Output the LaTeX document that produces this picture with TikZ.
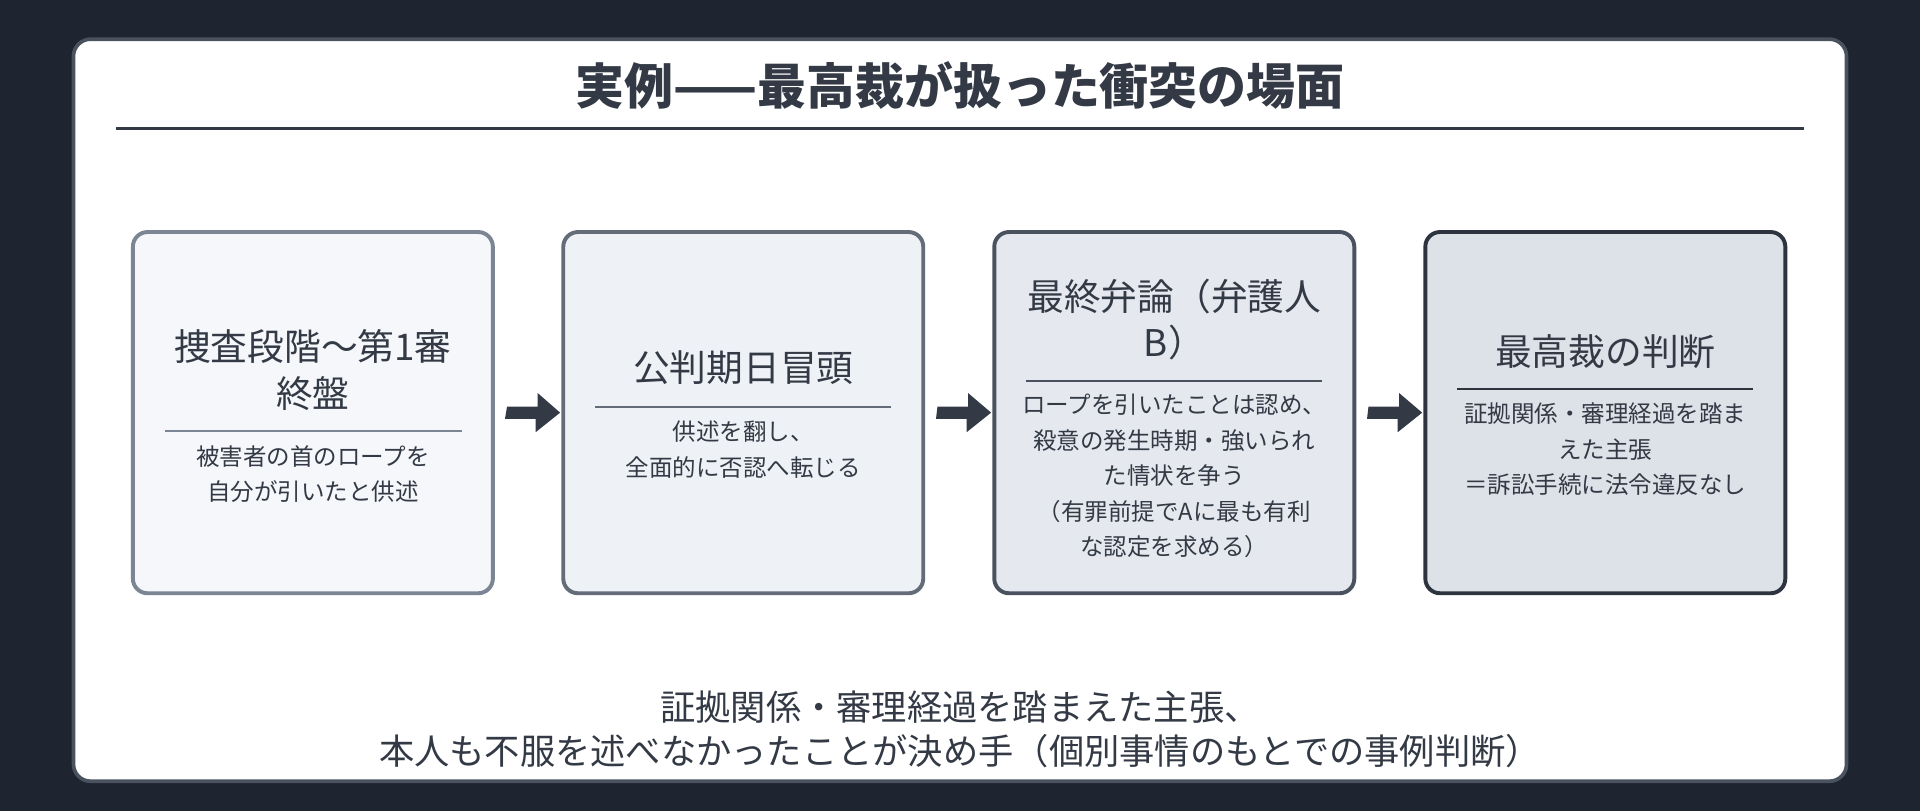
\documentclass[tikz,border=0pt]{standalone}
\usepackage{fontspec}
\setmainfont{Noto Sans CJK JP}
\usetikzlibrary{arrows.meta}
\definecolor{bgdark}{HTML}{1E2530}
\definecolor{txt}{HTML}{333A45}
\definecolor{fA}{HTML}{F5F7FA}\definecolor{dA}{HTML}{7C8594}
\definecolor{fB}{HTML}{EEF1F5}\definecolor{dB}{HTML}{646C7A}
\definecolor{fC}{HTML}{E5E9EF}\definecolor{dC}{HTML}{4A5260}
\definecolor{fD}{HTML}{DDE1E8}\definecolor{dD}{HTML}{2D3440}
\begin{document}
\begin{tikzpicture}[x=0.5pt,y=-0.5pt,
 box/.style={draw,line width=1.6pt,rounded corners=6pt,minimum width=147pt,minimum height=147.5pt,inner sep=0pt},
 head/.style={text=txt,font=\fontsize{15}{19}\selectfont,align=center},
 body/.style={text=txt,font=\fontsize{9.6}{14.5}\selectfont,align=center},
 rule/.style={line width=0.8pt},
 arr/.style={draw=none,fill=txt}]
\useasboundingbox (0,0) rectangle (1568,662);
\fill[bgdark] (0,0) rectangle (1568,662);
\node[draw=dC,line width=1.5pt,fill=white,rounded corners=7pt,minimum width=724pt,minimum height=303pt] (card) at (784,335) {};
\node[text=txt,font=\bfseries\fontsize{20}{24}\selectfont] (title) at (784,70) {実例——最高裁が扱った衝突の場面};
\draw[txt,line width=1pt] (95,105) coordinate (tl) -- (1473,105) coordinate (tr);
% boxes
\node[box,draw=dA,fill=fA] (b1) at (255.5,337) {};
\node[box,draw=dB,fill=fB] (b2) at (607,337) {};
\node[box,draw=dC,fill=fC] (b3) at (959,337) {};
\node[box,draw=dD,fill=fD] (b4) at (1311,337) {};
% box 1
\node[head] (h1) at (255.5,302) {捜査段階〜第1審\\終盤};
\draw[rule,dA] (135,352) -- (377,352);
\node[body] (t1) at (255.5,387) {被害者の首のロープを\\自分が引いたと供述};
% box 2
\node[head] (h2) at (607,300) {公判期日冒頭};
\draw[rule,dB] (486,332) -- (728,332);
\node[body] (t2) at (607,367) {供述を翻し、\\全面的に否認へ転じる};
% box 3
\node[head] (h3) at (959,261) {最終弁論（弁護人\\B）};
\draw[rule,dC] (838,311) -- (1080,311);
\node[body] (t3) at (959,389) {ロープを引いたことは認め、\\殺意の発生時期・強いられ\\た情状を争う\\（有罪前提でAに最も有利\\な認定を求める）};
% box 4
\node[head] (h4) at (1311,287) {最高裁の判断};
\draw[rule,dD] (1190,318) -- (1432,318);
\node[body] (t4) at (1311,367) {証拠関係・審理経過を踏ま\\えた主張\\＝訴訟手続に法令違反なし};
% arrows
\foreach \a/\b in {b1/b2,b2/b3,b3/b4}{
 \path (\a.east) ++(10,0) coordinate (s) (\b.west) ++(-1,0) coordinate (e);
 \fill[txt] (s) ++(0,-5) -- ++(25,0) -- ++(0,-11) -- (e) -- ++(-20,16) -- ++(0,-11) -- ++(-25,0) -- cycle;
}
% bottom text
\node[text=txt,font=\fontsize{14.4}{18}\selectfont,align=center] (foot) at (784,596) {証拠関係・審理経過を踏まえた主張、\\本人も不服を述べなかったことが決め手（個別事情のもとでの事例判断）};
\end{tikzpicture}
\end{document}
